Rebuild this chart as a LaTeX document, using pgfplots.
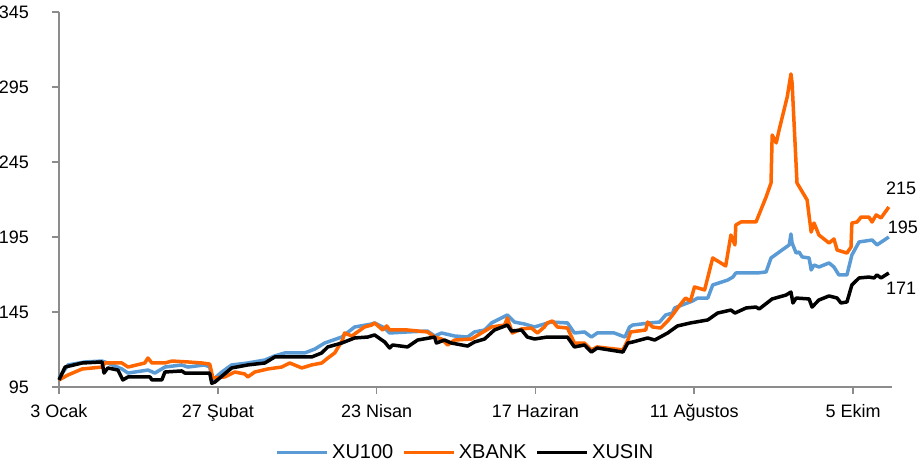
\documentclass[border=0pt]{standalone}
\usepackage{pgfplots}
\pgfplotsset{compat=1.18}
\usepackage{fontspec}
\setmainfont{Liberation Sans}

\definecolor{xublue}{HTML}{5B9BD5}
\definecolor{xborange}{HTML}{FF6600}
\definecolor{axisgray}{HTML}{8C8C8C}

% day 0 = 3 Ocak
\pgfplotstableread{
d v
0 101
3.1 109.7
9.0 111.7
14.9 112.3
16.9 111
21.8 107
23.9 104.3
30.8 106.3
33.2 104.3
36.7 108.3
42.5 109.7
44.6 108.3
50.5 109.7
52.2 108.3
53.3 98
54.0 101
56.4 105
59.8 109.7
65.4 111
71.3 113
74.7 115.7
78.2 117.7
85.1 117.7
88.6 120.3
92.0 124.3
97.9 128.3
102.4 135
108.3 137
109.3 137.7
112.8 134.3
114.5 131
120.7 131.7
127.6 132.3
130.1 129
132.5 131
137.0 129
141.5 128.3
143.9 131.7
147.4 133
149.8 137.7
153.2 141
155.3 143
157.7 138.3
161.2 137
164.7 135
168.1 137
170.5 138.3
176.1 137.7
178.5 131
182.0 131.7
184.4 128.3
186.4 131
192.3 131
196.0 128.3
197.6 135
198.7 136.3
204.6 137.7
208.0 138.3
210.1 143
212.5 144.3
213.2 147.7
217.6 151
219.4 152.3
221.2 154.3
224.7 154.3
226.4 163
231.6 166.3
233.4 168.3
234.4 171
241.8 171
244.9 171.7
246.6 181
250.4 186.3
252.9 189.7
253.5 197
253.9 191
255.3 184.3
256.3 185
257.4 181.7
259.8 181
260.5 173
261.5 176.3
263.2 175
266.7 177.7
268.4 175
270.1 169.7
272.9 169.7
274.6 183
277.1 191.7
281.6 193
283.3 189.7
287.4 195
}\xuhundred

\pgfplotstableread{
d v
0 99.7
3.1 103
8.0 107
14.9 108.3
15.9 111
21.8 111
23.9 108.3
29.7 111
30.8 114.3
32.2 111
36.7 111
39.1 112.3
44.6 111.7
49.5 111
52.2 110.3
53.3 101
57.4 101.7
60.9 105
64.3 103.7
65.4 101.7
67.8 105
72.3 107
77.1 108.3
79.9 111
84.1 107.7
87.5 109.7
91.0 111
93.1 114.3
95.5 117.7
98.2 126.3
98.9 131
101.4 129
105.8 135
108.3 136.3
109.3 137.7
112.1 133
113.5 135.7
114.5 133
120.7 133
127.6 131.7
130.1 128.3
132.5 127
134.6 123
137.0 126.3
142.9 127
146.3 131
149.8 135
154.3 136.3
155.3 141
157.0 131
160.2 133.7
163.6 134.3
165.7 131
168.1 135
169.1 137.7
170.9 139
172.6 135
176.1 134.3
178.5 124.3
182.0 124.3
184.4 119.7
186.4 121.7
195.3 119.7
197.0 126.3
198.0 131.7
203.2 133
203.9 138.3
205.6 135
208.4 134.3
210.8 139
212.5 143
214.5 148.3
217.0 154.3
218.7 152.3
220.1 161.7
223.6 159.7
226.4 181
230.9 175.7
232.7 196.3
234.1 189.7
234.4 203
236.2 205
241.4 205
244.9 221.7
246.6 231
247.0 263
248.4 257.7
249.4 266.3
252.2 288.3
253.5 303.7
253.9 297.7
255.6 231
259.1 219.7
260.5 198.3
261.5 204.3
263.2 196.3
266.7 191
268.4 193.7
269.5 186.3
272.9 184.3
274.3 188.3
274.6 204.3
276.4 205
277.8 208.3
280.5 208.3
281.6 205
283.0 209.7
284.7 207.7
287.4 215
}\xbank

\pgfplotstableread{
d v
0 99.7
2.1 108.3
8.0 111
14.9 111.7
15.6 104.3
16.9 107.7
20.4 106.3
22.1 99.7
23.9 101.7
31.5 101.7
32.2 99.7
35.6 99.7
36.7 105
42.5 105.7
43.6 104.3
52.2 104.3
52.9 97.5
54.0 98.3
59.8 107.7
65.4 109.7
71.3 111
74.7 115
80.6 115
87.5 115
91.0 117.7
93.1 121.7
97.9 124.3
102.4 127.7
106.9 128.3
109.3 129.7
112.8 125
114.5 121
115.5 123
120.7 121.7
124.2 126.3
130.1 128.3
130.7 124.3
133.5 126.3
135.9 124.3
141.5 122.3
143.9 125
147.4 127
150.8 133
155.3 136.3
156.7 132.3
160.2 133
162.2 128.3
164.7 127
169.1 128.3
176.1 128.3
178.5 121.7
182.0 123
184.4 118.3
186.4 121
195.3 118.3
197.0 124.3
198.7 125
203.9 127.7
206.3 126.3
210.8 131
214.2 135.7
218.7 137.7
224.7 139.7
228.1 144.3
232.7 146.3
234.1 144.3
238.0 147.7
241.4 148.3
242.5 147
247.0 153.7
251.8 156.3
253.5 158.3
254.2 151
255.3 154.3
259.8 153.7
260.8 148.3
263.2 153
266.7 155.7
269.5 154.3
270.8 151
272.9 151.7
274.6 163
277.1 167.7
280.5 168.3
282.3 167.7
283.3 169.7
284.7 167.7
287.4 171
}\xusin

\begin{document}
\fontsize{18}{21}\selectfont
\begin{tikzpicture}[x=1pt,y=1pt]
\useasboundingbox (0,0) rectangle (922,465);
\begin{axis}[
  at={(59pt,78pt)}, anchor=south west,
  scale only axis, width=833pt, height=375pt,
  xmin=0, xmax=288.5, ymin=95, ymax=345,
  ytick={95,145,...,345},
  xtick={0,55,110,165,220,275},
  xticklabels={3 Ocak,27 Şubat,23 Nisan,17 Haziran,11 Ağustos,5 Ekim},
  axis x line*=bottom, axis y line*=left,
  axis line style={axisgray, line width=1.5pt, -},
  tick style={axisgray, line width=1.5pt},
  tick align=outside, major tick length=7pt,
  /pgf/number format/assume math mode=true,
  tick label style={font=\fontsize{18}{21}\selectfont, black},
  yticklabel style={xshift=-17pt},
  xticklabel style={yshift=-4.5pt},
  clip=false,
  legend style={at={(0.4886,-0.175)}, anchor=center, draw=none, fill=none,
    legend columns=3, font=\fontsize{20}{22}\selectfont,
    nodes={inner xsep=3pt},
    /tikz/every even column/.append style={column sep=6pt}},
  legend image code/.code={\draw[#1] (0pt,0pt) -- (50pt,0pt);},
  every axis plot/.append style={line width=3.5pt, line join=round},
]
\addplot[xublue] table[x=d,y=v] {\xuhundred};
\addlegendentry{XU100}
\addplot[xborange] table[x=d,y=v] {\xbank};
\addlegendentry{XBANK}
\addplot[black] table[x=d,y=v] {\xusin};
\addlegendentry{XUSIN}
\node[anchor=west, inner sep=0pt] at (axis cs:286.4,227.7) {215};
\node[anchor=west, inner sep=0pt] at (axis cs:287.0,201.7) {195};
\node[anchor=west, inner sep=0pt] at (axis cs:286.4,161) {171};
\end{axis}
\end{tikzpicture}
\end{document}
